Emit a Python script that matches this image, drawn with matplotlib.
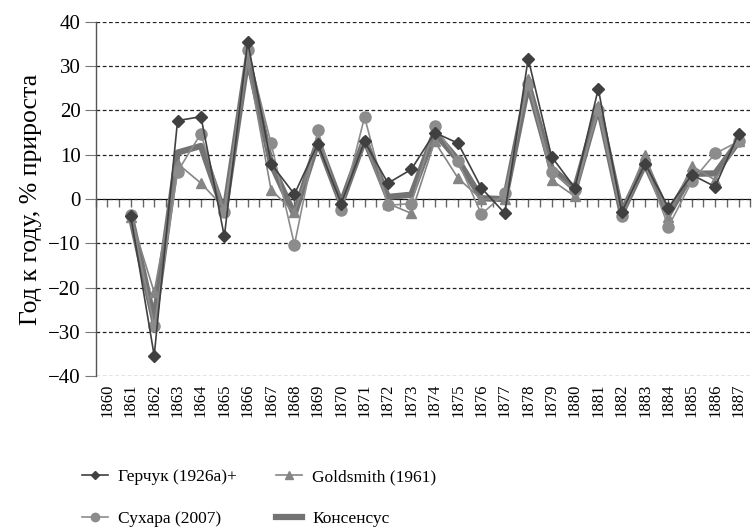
import matplotlib
matplotlib.use("Agg")
import matplotlib.pyplot as plt
import numpy as np

plt.rcParams['font.family'] = ['Liberation Serif', 'DejaVu Serif']

years = list(range(1860, 1888))
nan = np.nan
gerchuk = [nan, -3.8, -35.3, 17.7, 18.6, -8.4, 35.5, 8.0, 1.1, 12.5, -1.0, 13.0, 3.6, 6.7, 15.0,
           12.6, 2.5, -3.2, 31.7, 9.6, 2.5, 24.9, -3.0, 8.0, -1.9, 5.5, 2.8, 14.8]
goldsmith = [nan, -4.0, -21.0, 8.0, 3.6, -2.0, 31.0, 2.1, -3.0, 13.0, -1.0, 13.0, -1.0, -3.2, 13.0,
             4.7, 0.0, 0.0, 27.0, 4.3, 0.6, 21.0, -3.0, 10.0, -4.0, 7.5, 4.3, 13.0]
sukhara = [nan, -3.5, -28.7, 6.2, 14.8, -3.0, 33.6, 12.6, -10.3, 15.6, -2.4, 18.5, -1.4, -1.0, 16.5,
           8.5, -3.4, 1.3, 26.0, 6.2, 2.0, 20.0, -3.8, 8.0, -6.2, 4.0, 10.3, 13.0]
consensus = [nan, -4.0, -27.5, 10.5, 12.0, -3.2, 32.0, 8.0, -3.5, 13.0, -1.0, 13.5, 0.5, 1.0, 15.0,
             8.8, 0.2, 0.0, 26.0, 7.0, 2.3, 21.0, -3.2, 8.0, -3.5, 5.7, 5.8, 13.0]
labels = ['Герчук (1926а)+', 'Goldsmith (1961)', 'Сухара (2007)', 'Консенсус']

fig = plt.figure(figsize=(7.54, 5.31), dpi=100)
ax = fig.add_axes([0.127, 0.291, 0.868, 0.668])

x = np.arange(len(years))
l_con, = ax.plot(x, consensus, color='#737373', lw=4.5, zorder=3, label=labels[3])
l_ger, = ax.plot(x, gerchuk, color='#404040', lw=1.2, marker='D', ms=6, zorder=5, label=labels[0])
l_gol, = ax.plot(x, goldsmith, color='#858585', lw=1.2, marker='^', ms=7, zorder=4, label=labels[1])
l_suk, = ax.plot(x, sukhara, color='#8c8c8c', lw=1.2, marker='o', ms=8, zorder=4, label=labels[2])

ax.set_xlim(-0.5, len(years) - 0.5)
ax.set_ylim(-40, 40)
ax.set_yticks(np.arange(-40, 41, 10))
ax.yaxis.grid(True, linestyle=(0, (3, 2)), color='#222222', lw=0.9)
ax.set_axisbelow(True)
for s in ['top', 'right', 'bottom']:
    ax.spines[s].set_visible(False)
ax.spines['left'].set_color('#555555')
ax.spines['left'].set_linewidth(1.0)
ax.tick_params(axis='y', length=8, width=0.8, color='#777777', labelsize=15, pad=3)
ax.set_xticks(x)
ax.set_xticklabels([str(y) for y in years], rotation=90, fontsize=12)
ax.tick_params(axis='x', length=0, pad=5)
ax.set_ylabel('Год к году, % прироста', fontsize=18.5, labelpad=4)

sec = ax.secondary_xaxis(0.5)
sec.set_xticks(np.arange(-0.5, len(years), 0.5))
sec.xaxis.set_ticklabels([])
sec.tick_params(axis='x', direction='in', length=6, width=1.0, color='#666666')
sec.spines['bottom'].set_color('#aaaaaa')
sec.spines['bottom'].set_linewidth(2.2)

leg = fig.legend([l_ger, l_suk, l_gol, l_con],
                 [labels[0], labels[2], labels[1], labels[3]],
                 ncol=2, loc='upper left', bbox_to_anchor=(0.088, 0.146),
                 bbox_transform=fig.transFigure, frameon=False,
                 fontsize=12.5, handlelength=1.5, handletextpad=0.6, columnspacing=2.2,
                 labelspacing=1.45, markerscale=0.75)
fig.savefig('out.png', dpi=100)
